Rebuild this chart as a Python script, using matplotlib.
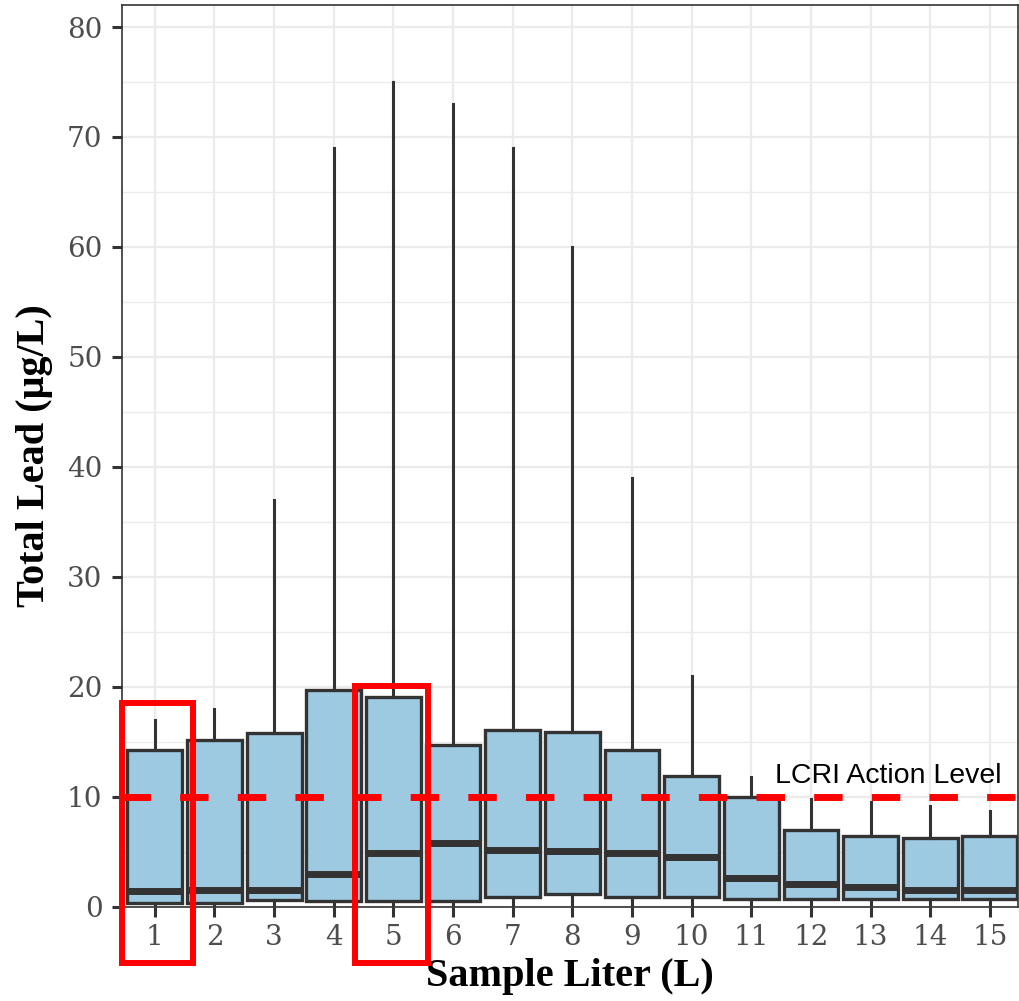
import matplotlib
matplotlib.use("Agg")
import matplotlib.pyplot as plt
from matplotlib.patches import Rectangle

liters = list(range(1, 16))
q1 = [0.4, 0.35, 0.6, 0.5, 0.5, 0.5, 0.9, 1.2, 0.9, 0.9, 0.7, 0.7, 0.7, 0.7, 0.7]
median = [1.45, 1.5, 1.5, 3.0, 4.9, 5.8, 5.2, 5.1, 4.9, 4.5, 2.6, 2.1, 1.8, 1.55, 1.55]
q3 = [14.3, 15.2, 15.8, 19.7, 19.1, 14.7, 16.1, 15.9, 14.3, 11.9, 10.0, 7.0, 6.45, 6.3, 6.45]
whis_hi = [17.0, 18.0, 37.0, 69.0, 75.0, 73.0, 69.0, 60.0, 39.0, 21.0, 11.8, 9.8, 9.5, 9.2, 8.7]
whis_lo = [0.1, 0.1, 0.1, 0.1, 0.1, 0.1, 0.1, 0.1, 0.1, 0.1, 0.1, 0.1, 0.1, 0.1, 0.1]
action_level = 10
highlight = [1, 5]
y_ticks = [0, 10, 20, 30, 40, 50, 60, 70, 80]

fig = plt.figure(figsize=(10.2, 10.01), dpi=100)
ax = fig.add_axes([0.1196, 0.094, 0.8784, 0.901])

ax.set_xlim(0.45, 15.47)
ax.set_ylim(0, 82)

# grid
for y in range(0, 85, 5):
    ax.axhline(y, color="#EBEBEB", lw=1.6 if y % 10 == 0 else 1.0, zorder=0)
for x in liters:
    ax.axvline(x, color="#EBEBEB", lw=1.6, zorder=0)

stats = []
for i in range(len(liters)):
    stats.append(dict(med=median[i], q1=q1[i], q3=q3[i],
                      whislo=whis_lo[i], whishi=whis_hi[i], fliers=[]))
bp = ax.bxp(stats, positions=liters, widths=0.92, patch_artist=True,
            showfliers=False, showcaps=False, manage_ticks=False,
            boxprops=dict(facecolor="#9ECAE1", edgecolor="#333333", linewidth=2.4),
            whiskerprops=dict(color="#333333", linewidth=2.2),
            medianprops=dict(color="#333333", linewidth=5, solid_capstyle="butt"))
for p in bp["boxes"]:
    p.set_zorder(2)

ax.axhline(action_level, color="#FF0000", lw=5, dashes=(4.1, 4.2), zorder=3)
ax.text(11.4, 11.9, "LCRI Action Level", fontsize=20.5, family="Liberation Sans",
        va="center", ha="left", color="black", zorder=4)

# red highlight rectangles
hl_boxes = {1: (0.445, 1.64, -5.1, 18.5), 5: (4.36, 5.58, -5.1, 20.1)}
for k in highlight:
    x0, x1, y0, y1 = hl_boxes[k]
    ax.add_patch(Rectangle((x0, y0), x1 - x0, y1 - y0, fill=False,
                           edgecolor="#FF0000", lw=4.3, clip_on=False, zorder=5))

ax.set_xticks(liters)
ax.set_xticklabels([str(v) for v in liters])
ax.set_yticks(y_ticks)
ax.tick_params(axis="both", which="major", length=7, width=2.2, color="#333333",
               labelcolor="#4D4D4D")
ax.tick_params(axis="x", pad=5)
ax.tick_params(axis="y", pad=7)
for lab in ax.get_xticklabels() + ax.get_yticklabels():
    lab.set_family("DejaVu Serif")
    lab.set_fontsize(20)

for s in ax.spines.values():
    s.set_color("#333333")
    s.set_linewidth(1.2)

ax.set_xlabel("Sample Liter (L)", fontsize=29, fontweight="bold",
              family="Liberation Serif", labelpad=5)
ax.set_ylabel("Total Lead (μg/L)", fontsize=29, fontweight="bold",
              family="Liberation Serif", labelpad=10)

fig.savefig("out.png", dpi=100)
